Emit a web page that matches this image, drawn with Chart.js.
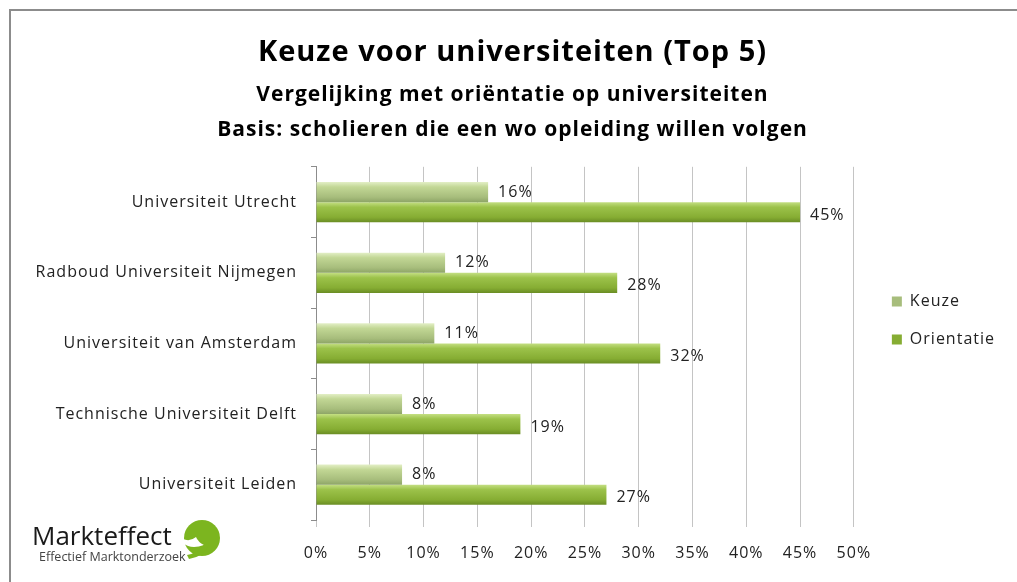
<!DOCTYPE html>
<html>
<head>
<meta charset="utf-8">
<script src="https://cdn.jsdelivr.net/npm/chart.js@4.4.1/dist/chart.umd.min.js"></script>
<style>
  html, body { margin: 0; padding: 0; background: #fff; }
  #wrap { position: relative; width: 1017px; height: 582px; overflow: hidden; }
  #frame { position: absolute; left: 9px; top: 9px; width: 1100px; height: 700px;
           border-top: 2px solid #8c8c8c; border-left: 2px solid #8c8c8c; }
  canvas { position: absolute; left: 0; top: 0; }
  #logo { position: absolute; left: 32px; top: 520px; font-family: "Open Sans", sans-serif; color: #1a1a1a; }
  #logo .big { font-size: 26px; line-height: 30px; letter-spacing: 0px; }
  #logo .small { font-size: 12.5px; line-height: 14px; color: #444; margin-left: 7px; }
  #logo svg { position: absolute; left: 150px; top: 0px; }
</style>
</head>
<body>
<div id="wrap">
  <div id="frame"></div>
  <canvas id="chart" width="1017" height="582"></canvas>
  <div id="logo">
    <div class="big">Markteffect</div>
    <div class="small">Effectief Marktonderzoek</div>
    <svg width="42" height="42" viewBox="0 0 42 42">
      <circle cx="20" cy="18" r="18" fill="#7cb51f"/>
      <path d="M1 23 Q9 30 22 25 Q16 22 14 17 Q8 22 1 19 Z" fill="#fff"/>
      <path d="M7 39 Q21 37 27 25 L22 24.5 Q16 33 5 35 Z" fill="#7cb51f"/>
    </svg>
  </div>
</div>
<script>
const universities = [
  "Universiteit Utrecht",
  "Radboud Universiteit Nijmegen",
  "Universiteit van Amsterdam",
  "Technische Universiteit Delft",
  "Universiteit Leiden"
];
const keuze = [16, 12, 11, 8, 8];
const orientatie = [45, 28, 32, 19, 27];
const xTicks = [0, 5, 10, 15, 20, 25, 30, 35, 40, 45, 50];

const FONT = "'Open Sans', sans-serif";
const keuzeStops = ["#e3efc6", "#c2d795", "#a7bd7c", "#8ea567"];
const orientatieStops = ["#c4df83", "#9cc24a", "#86ad33", "#6a8d24"];

// bevel-like gradient per bar, built from the scale positions
function barGradient(stops, half) {
  return function (ctx) {
    const chart = ctx.chart;
    const y = chart.scales.y;
    if (!y || ctx.dataIndex === undefined) return stops[2];
    const step = y.getPixelForValue(1) - y.getPixelForValue(0);
    const c = y.getPixelForValue(ctx.dataIndex);
    if (!isFinite(step) || !isFinite(c) || step === 0) return stops[2];
    const h = step * 0.57 / 2;
    const top = half === 0 ? c - h : c;
    const g = chart.ctx.createLinearGradient(0, top, 0, top + h);
    g.addColorStop(0, stops[0]);
    g.addColorStop(0.25, stops[1]);
    g.addColorStop(0.75, stops[2]);
    g.addColorStop(1, stops[3]);
    return g;
  };
}

// the source text is set a little loose, so widen all canvas text
const spacing = {
  id: "spacing",
  beforeUpdate(chart) { chart.ctx.letterSpacing = "1px"; },
  beforeDraw(chart) { chart.ctx.letterSpacing = "1px"; }
};

const valueLabels = {
  id: "valueLabels",
  afterDatasetsDraw(chart) {
    const c = chart.ctx;
    c.save();
    c.font = "16px " + FONT;
    c.fillStyle = "#222";
    c.textBaseline = "middle";
    chart.data.datasets.forEach((ds, di) => {
      chart.getDatasetMeta(di).data.forEach((el, i) => {
        c.fillText(ds.data[i] + "%", el.x + 10, el.y + (di === 1 ? 3 : 0));
      });
    });
    c.restore();
  }
};

const legendColors = [keuzeStops[2], orientatieStops[2]];

new Chart(document.getElementById("chart"), {
  type: "bar",
  data: {
    labels: universities,
    datasets: [
      {
        label: "Keuze",
        data: keuze,
        backgroundColor: barGradient(keuzeStops, 0),
        borderWidth: 0
      },
      {
        label: "Orientatie",
        data: orientatie,
        backgroundColor: barGradient(orientatieStops, 1),
        borderWidth: 0
      }
    ]
  },
  options: {
    indexAxis: "y",
    responsive: false,
    animation: false,
    layout: { padding: { left: 20, right: 12, top: 0, bottom: 6 } },
    datasets: { bar: { categoryPercentage: 0.57, barPercentage: 1 } },
    scales: {
      x: {
        min: 0,
        max: 50,
        afterBuildTicks: (s) => { s.ticks = xTicks.map((v) => ({ value: v })); },
        ticks: {
          callback: (v) => v + "%",
          font: { family: FONT, size: 16 },
          color: "#222",
          padding: 17
        },
        grid: { color: "#c4c4c4", tickLength: 7, tickColor: "#c4c4c4" },
        border: { display: false },
        afterFit: (s) => { s.height = 56; }
      },
      y: {
        grid: { offset: true, drawOnChartArea: false, tickLength: 5, color: "#8c8c8c" },
        border: { display: true, color: "#8c8c8c" },
        ticks: {
          font: { family: FONT, size: 16 },
          color: "#222",
          padding: 14
        },
        afterFit: (s) => { s.width = 296; }
      },
      pad: {
        type: "linear",
        axis: "y",
        position: "right",
        display: true,
        ticks: { display: false },
        grid: { display: false },
        border: { display: false },
        afterFit: (s) => { s.width = 16; }
      }
    },
    plugins: {
      title: {
        display: true,
        text: "Keuze voor universiteiten (Top 5)",
        font: { family: FONT, size: 29, weight: "bold" },
        color: "#000",
        padding: { top: 35, bottom: 8 }
      },
      subtitle: {
        display: true,
        text: [
          "Vergelijking met oriëntatie op universiteiten",
          "Basis: scholieren die een wo opleiding willen volgen"
        ],
        font: { family: FONT, size: 21, weight: "bold", lineHeight: 1.667 },
        color: "#000",
        padding: { top: 0, bottom: 19 }
      },
      legend: {
        position: "right",
        align: "start",
        title: { display: true, text: " ", padding: { top: 269, bottom: 0 }, font: { size: 2 } },
        labels: {
          boxWidth: 10,
          boxHeight: 10,
          padding: 22,
          font: { family: FONT, size: 16 },
          color: "#222",
          generateLabels: (chart) => {
            const items = Chart.defaults.plugins.legend.labels.generateLabels(chart);
            items.forEach((it, i) => { it.fillStyle = legendColors[i]; it.strokeStyle = legendColors[i]; it.lineWidth = 0; });
            return items;
          }
        }
      },
      tooltip: { enabled: false }
    }
  },
  plugins: [spacing, valueLabels]
});
</script>
</body>
</html>
